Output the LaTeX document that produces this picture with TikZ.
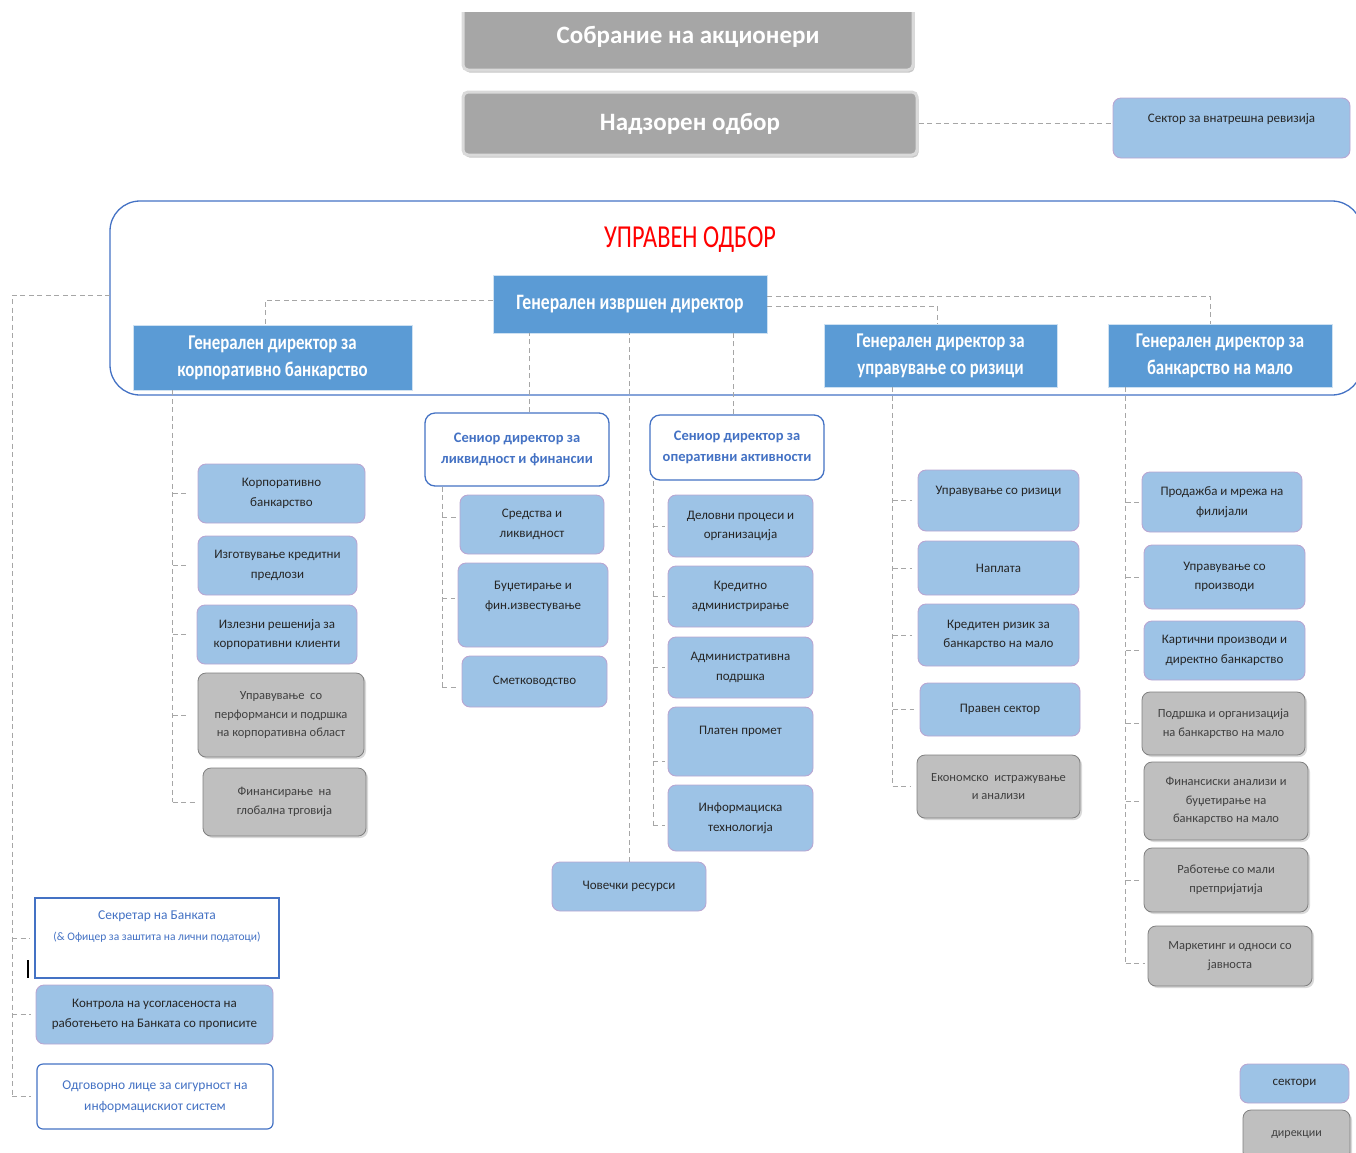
\documentclass[tikz,border=0pt]{standalone}
\usepackage{fontspec}
\setmainfont{Carlito}
\newfontfamily\condfont{Carlito}[FakeStretch=0.8]
\newfontfamily\titlefont{Carlito}[FakeStretch=0.76]
\usetikzlibrary{shadows}

\definecolor{hdrblue}{HTML}{5B9BD5}
\definecolor{secblue}{HTML}{9DC3E6}
\definecolor{secedge}{HTML}{B9A6D2}
\definecolor{dirgray}{HTML}{BFBFBF}
\definecolor{diredge}{HTML}{7F7F7F}
\definecolor{topgray}{HTML}{A6A6A6}
\definecolor{topedge}{HTML}{DADADA}
\definecolor{lineblue}{HTML}{4472C4}
\definecolor{linkgray}{HTML}{A6A6A6}
\definecolor{textdark}{HTML}{262626}

\begin{document}
\begin{tikzpicture}[x=1pt, y=-1pt,
    % Size of a box (width and height in px of the chart)
    box/.style 2 args={minimum width=#1pt, minimum height=#2pt, inner sep=0pt, align=center},
    % Grey boxes of the top bodies
    topbox/.style={rectangle, rounded corners=5pt, fill=topgray, draw=topedge, line width=3pt,
        drop shadow={shadow xshift=1.5pt, shadow yshift=-2.5pt, opacity=0.45},
        text=white, font=\fontsize{25}{30}\selectfont\bfseries},
    % General directors (dark blue)
    gd/.style={rectangle, fill=hdrblue, draw=white!70!hdrblue, line width=0.6pt,
        text=white, font=\condfont\fontsize{21}{27}\selectfont\bfseries},
    % Senior directors (white, blue frame)
    senior/.style={rectangle, rounded corners=10pt, fill=white, draw=lineblue, line width=1.3pt,
        text=lineblue, font=\fontsize{14.5}{21}\selectfont\bfseries},
    % Sectors (light blue)
    sector/.style={rectangle, rounded corners=8pt, fill=secblue, draw=secedge, line width=0.9pt,
        text=textdark, font=\fontsize{13}{19.5}\selectfont},
    % Directorates (grey)
    dir/.style={rectangle, rounded corners=8pt, fill=dirgray, draw=diredge, line width=0.8pt,
        drop shadow={shadow xshift=2pt, shadow yshift=-2pt, opacity=0.3},
        text=black!75, font=\fontsize{12.5}{18.5}\selectfont},
    % Officers attached to the board
    officer/.style={rectangle, fill=white, draw=lineblue, line width=1.2pt,
        text=lineblue, font=\fontsize{13.5}{21}\selectfont},
    % Dashed connectors
    link/.style={draw=linkgray, line width=0.9pt, dash pattern=on 5pt off 3.5pt}
]
\useasboundingbox (0,0) rectangle (1356,1152);
\clip (0,12) rectangle (1356,1152);

% ==========================
% Top bodies
% ==========================
\node[topbox, box={450}{66}] (sobranie) at (688,37) {Собрание на акционери};
\node[topbox, box={454}{63}] (nadzor) at (690,123.5) {Надзорен одбор};
\node[sector, box={237}{60}] (revizija) at (1231.5,128) {Сектор за внатрешна ревизија\\[0pt]\mbox{}};

\draw[link] (nadzor.east) -- (nadzor.east -| revizija.west);

% ==========================
% Management board
% ==========================
\draw[lineblue, line width=1.3pt, rounded corners=30pt] (110,201) rectangle (1362,395);
\node[text=red, font=\titlefont\fontsize{32}{36}\selectfont] (uo) at (690,240) {УПРАВЕН ОДБОР};

\node[gd, box={274}{58}, font=\condfont\fontsize{22}{27}\selectfont\bfseries] (ceo) at (630,304) {Генерален извршен директор};
\node[gd, box={279}{65}] (gdcorp) at (272.5,357.5) {Генерален директор за\\корпоративно банкарство};
\node[gd, box={233}{63}] (gdrisk) at (940.5,355.5) {Генерален директор за\\управување со ризици};
\node[gd, box={224}{63}] (gdretail) at (1220,355.5) {Генерален директор за\\банкарство на мало};

% ==========================
% Corporate banking
% ==========================
\node[sector, box={167}{59}] (c1) at (281.5,493.5) {Корпоративно\\банкарство};
\node[sector, box={159}{59}] (c2) at (277.5,565.5) {Изготвување кредитни\\предлози};
\node[sector, box={160}{59}] (c3) at (277,634.5) {Излезни решенија за\\корпоративни клиенти};
\node[dir, box={166}{84}] (c4) at (281,715) {Управување~ со\\перформанси и подршка\\на корпоративна област};
\node[dir, box={163}{68}] (c5) at (284.5,802) {Финансирање~ на\\глобална трговија};

% ==========================
% Liquidity and finance
% ==========================
\node[senior, box={184}{73}] (senliq) at (517,449.5) {Сениор директор за\\ликвидност и финансии};
\node[sector, box={144}{59}] (l1) at (532,524.5) {Средства и\\ликвидност};
\node[sector, box={150}{84}] (l2) at (533,605) {Буџетирање и\\фин.известување\\[0pt]\mbox{}};
\node[sector, box={145}{51}] (l3) at (534.5,681.5) {Сметководство};

% ==========================
% Operations
% ==========================
\node[senior, box={174}{65}] (senops) at (737,447.5) {Сениор директор за\\оперативни активности};
\node[sector, box={145}{62}] (o1) at (740.5,526) {Деловни процеси и\\организација};
\node[sector, box={145}{61}] (o2) at (740.5,596.5) {Кредитно\\администрирање};
\node[sector, box={145}{61}] (o3) at (740.5,667.5) {Административна\\подршка};
\node[sector, box={145}{69}] (o4) at (740.5,741.5) {Платен промет\\[2pt]\mbox{}};
\node[sector, box={145}{66}] (o5) at (740.5,818) {Информациска\\технологија};

\node[sector, box={154}{49}] (hr) at (629,886.5) {Човечки ресурси};

% ==========================
% Risk management
% ==========================
\node[sector, box={161}{61}] (r1) at (998.5,500.5) {Управување со ризици\\[0pt]\mbox{}};
\node[sector, box={161}{54}] (r2) at (998.5,568) {Наплата};
\node[sector, box={161}{62}] (r3) at (998.5,635) {Кредитен ризик за\\банкарство на мало};
\node[sector, box={160}{53}] (r4) at (1000,709.5) {Правен сектор};
\node[dir, box={163}{63}] (r5) at (998.5,786.5) {Економско~ истражување\\и анализи};

% ==========================
% Retail banking
% ==========================
\node[sector, box={160}{60}] (m1) at (1222,502) {Продажба и мрежа на\\филијали};
\node[sector, box={161}{64}] (m2) at (1224.5,577) {Управување со\\производи};
\node[sector, box={161}{59}] (m3) at (1224.5,650.5) {Картични производи и\\директно банкарство};
\node[dir, box={163}{63}] (m4) at (1223.5,723.5) {Подршка и организација\\на банкарство на мало};
\node[dir, box={164}{78}] (m5) at (1226,801) {Финансиски анализи и\\буџетирање на\\банкарство на мало};
\node[dir, box={164}{64}] (m6) at (1226,880) {Работење со мали\\претпријатија};
\node[dir, box={164}{60}] (m7) at (1230,956) {Маркетинг и односи со\\јавноста};

% ==========================
% Officers of the board
% ==========================
\node[officer, box={244}{80}] (sec) at (157,938) {Секретар на Банката\\{\fontsize{11.5}{15}\selectfont(\& Офицер за заштита на лични податоци)}\\[4pt]\mbox{}};
\node[sector, box={237}{59}] (ctrl) at (154.5,1014.5) {Контрола на усогласеноста на\\работењето на Банката со прописите};
\node[officer, box={236}{65}, rounded corners=6pt] (resp) at (155,1096.5) {Одговорно лице за сигурност на\\информацискиот систем};
\draw[black, line width=1.2pt] (28,960) -- (28,978);

% Legend
\node[sector, box={109}{39}] (legsec) at (1294.5,1083.5) {сектори};
\node[dir, box={107}{50}, font=\fontsize{12}{15}\selectfont] (legdir) at (1296.5,1135) {дирекции};

% ==========================
% Connectors
% ==========================
\draw[link] ([yshift=4pt]ceo.west) -| ([xshift=-7.5pt]gdcorp.north);
\draw[link] ([yshift=8pt]ceo.east) -| ([xshift=-10pt]gdretail.north);
\draw[link] ([yshift=-2pt]ceo.east) -| ([xshift=-3.5pt]gdrisk.north);
\draw[link] ([xshift=12pt]senliq.north) -- ([xshift=12pt]senliq.north |- ceo.south);
\draw[link] ([xshift=-4pt]senops.north) -- ([xshift=-4pt]senops.north |- ceo.south);
\draw[link] (hr.north) -- (hr.north |- ceo.south);

% board to its officers
\coordinate (boardleft) at (110,295);
\coordinate (lefttrunk) at (12,295);
\draw[link] (boardleft) -- (lefttrunk) -- (lefttrunk |- resp.west);
\foreach \n in {sec,ctrl,resp}
    \draw[link] (lefttrunk |- \n.west) -- ([xshift=-5pt]\n.west);

% corporate column
\coordinate (tcorp) at ([xshift=40pt]gdcorp.south west);
\draw[link] (tcorp) -- (tcorp |- c5.west);
\foreach \n in {c1,c2,c3,c4,c5}
    \draw[link] (tcorp |- \n.west) -- ([xshift=-8pt]\n.west);

% liquidity column
\coordinate (tliq) at ([xshift=18pt]senliq.south west);
\draw[link] (tliq) -- ([yshift=-6pt]tliq |- l3.west);
\foreach \n in {l1,l2}
    \draw[link] ([yshift=7pt]tliq |- \n.west) -- ([yshift=7pt,xshift=-3pt]\n.west);
\draw[link] ([yshift=-6pt]tliq |- l3.west) -- ([yshift=-6pt,xshift=-3pt]l3.west);

% operations column
\coordinate (tops) at ([xshift=4pt]senops.south west);
\draw[link] (tops) -- ([yshift=-7pt]tops |- o5.west);
\foreach \n in {o1,o2,o3}
    \draw[link] (tops |- \n.west) -- ([xshift=-3pt]\n.west);
\draw[link] ([yshift=-20pt]tops |- o4.west) -- ([yshift=-20pt,xshift=-3pt]o4.west);
\draw[link] ([yshift=-7pt]tops |- o5.west) -- ([yshift=-7pt,xshift=-3pt]o5.west);

% risk column
\coordinate (trisk) at ([xshift=69pt]gdrisk.south west);
\draw[link] (trisk) -- (trisk |- r5.west);
\foreach \n in {r1,r2,r3,r4,r5}
    \draw[link] (trisk |- \n.west) -- ([xshift=-6pt]\n.west);

% retail column
\coordinate (tretail) at ([xshift=18pt]gdretail.south west);
\draw[link] (tretail) -- ([yshift=-7pt]tretail |- m7.west);
\foreach \n in {m1,m2,m3,m4,m5,m6}
    \draw[link] (tretail |- \n.west) -- ([xshift=-3pt]\n.west);
\draw[link] ([yshift=-7pt]tretail |- m7.west) -- ([yshift=-7pt,xshift=-3pt]m7.west);

\end{tikzpicture}
\end{document}
